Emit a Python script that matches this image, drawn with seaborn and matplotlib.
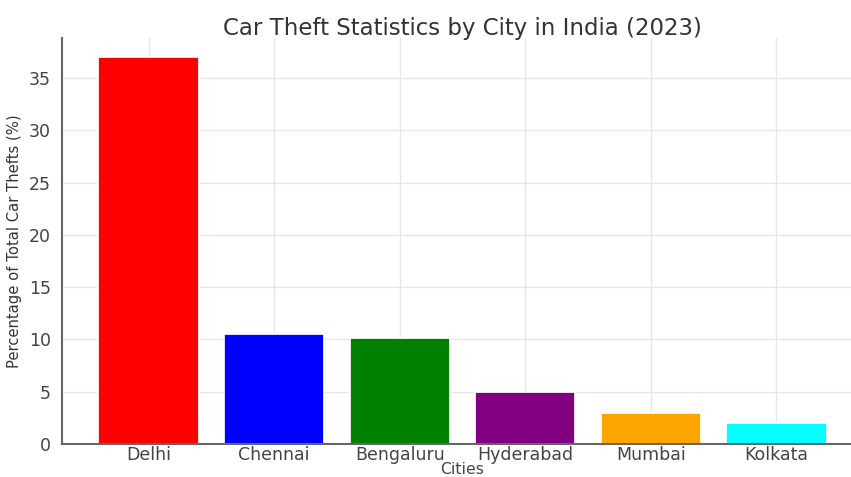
import seaborn as sns
import matplotlib.pyplot as plt
import pandas as pd

# data
cities = ['Delhi', 'Chennai', 'Bengaluru', 'Hyderabad', 'Mumbai', 'Kolkata']
theft_pct = [37, 10.5, 10.1, 5, 3, 2]
bar_colors = ['red', 'blue', 'green', 'purple', 'orange', 'cyan']

df = pd.DataFrame({'City': cities, 'Pct': theft_pct})

sns.set_style('whitegrid')
plt.rcParams['font.family'] = ['DejaVu Sans']

fig = plt.figure(figsize=(851 / 125, 477 / 125), dpi=125)
# the reference is cropped on the right and bottom, so axes run past the edge
ax = fig.add_axes([62 / 851, 33 / 477, 801 / 851, 406 / 477])

sns.barplot(data=df, x='City', y='Pct', hue='City', palette=bar_colors,
            legend=False, width=0.8, saturation=1, ax=ax)

ax.set_title('Car Theft Statistics by City in India (2023)', fontsize=13.2,
             color='#333333', pad=2)
ax.set_xlabel('Cities', fontsize=9, color='#444444', labelpad=-1)
ax.set_ylabel('Percentage of Total Car Thefts (%)', fontsize=8.5, color='#333333')
ax.tick_params(axis='both', labelsize=10, colors='#444444', length=3)
ax.tick_params(axis='x', length=0, pad=1)
ax.set_xlim(-0.69, 5.69)
ax.set_ylim(0, 38.85)
ax.set_yticks([0, 5, 10, 15, 20, 25, 30, 35])
ax.grid(True, color='#e6e6e6', linewidth=0.8)

for side in ['top', 'right']:
    ax.spines[side].set_visible(False)
for side in ['left', 'bottom']:
    ax.spines[side].set_color('#666666')
    ax.spines[side].set_linewidth(1.2)

fig.savefig('out.png', dpi=125)
